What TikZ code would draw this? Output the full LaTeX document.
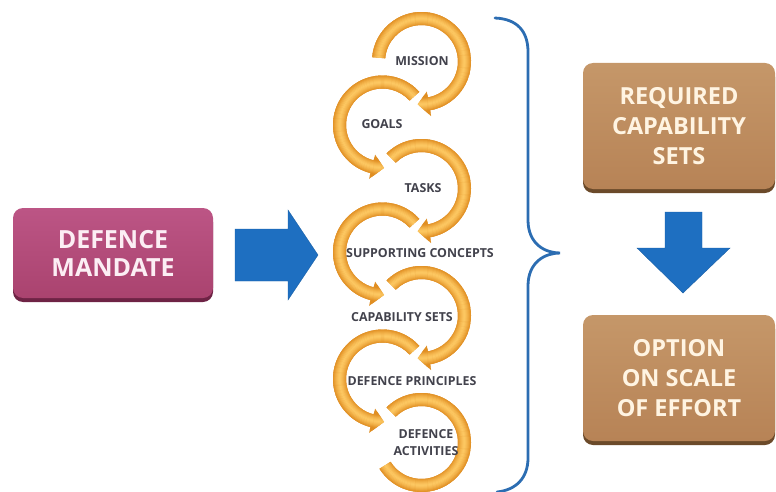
\documentclass[tikz,border=0pt]{standalone}
\usepackage{fontspec}
\setmainfont{Open Sans}
\usetikzlibrary{shadows}
\definecolor{orL}{HTML}{FDC862}
\definecolor{orD}{HTML}{E08E22}
\definecolor{lblGray}{HTML}{42424C}
\definecolor{mandTop}{HTML}{BC5585}
\definecolor{mandBot}{HTML}{AA436F}
\definecolor{mandShadow}{HTML}{6E2345}
\definecolor{mandText}{HTML}{FCEEF4}
\definecolor{brTop}{HTML}{C59769}
\definecolor{brBot}{HTML}{B78356}
\definecolor{brShadow}{HTML}{6B4A2A}
\definecolor{brText}{HTML}{FFF4E2}
\definecolor{arBlue}{HTML}{1E6FC1}
\definecolor{brace}{HTML}{2C6DB2}
\begin{document}
\begin{tikzpicture}[x=1pt,y=-1pt,
  mainbox/.style={rounded corners=10pt, minimum width=200pt, minimum height=90pt, align=center, text=mandText,
    font=\fontsize{25}{28}\selectfont\bfseries, top color=mandTop, bottom color=mandBot,
    drop shadow={shadow xshift=0pt, shadow yshift=-4pt, fill=mandShadow, opacity=1}},
  brownbox/.style={rounded corners=10pt, minimum width=192pt, minimum height=126pt, align=center, text=brText,
    font=\fontsize{23.5}{30}\selectfont\bfseries, top color=brTop, bottom color=brBot,
    drop shadow={shadow xshift=0pt, shadow yshift=-4pt, fill=brShadow, opacity=1}},
  lbl/.style={font=\fontsize{12.4}{17}\selectfont\bfseries, text=lblGray, inner sep=0pt, align=center},
  blockarrow/.style={fill=arBlue, draw=arBlue!85!black, line width=0.4pt, line join=miter}]
\useasboundingbox (0,0) rectangle (776,492);

% ---- rings (drawn from last to first so each arrowhead lies on the next ring)
\foreach \cx/\cy/\a/\b/\t/\ho/\hi in {
  421.5/442.5/225/508/508/49.5/36.5,
  382.5/379/318/104/88/55.5/30.5,
  421.5/315.5/225/440/455/55.5/30.5,
  382.5/252/318/104/88/55.5/30.5,
  421.5/188.5/225/440/455/55.5/30.5,
  382.5/125/318/104/88/55.5/30.5,
  421.5/61.5/185/440/455/55.5/30.5}{
  \path[fill=white,draw=white,line width=2.4pt,line join=round]
    ([shift={(\cx,\cy)}]\a:49.5) arc[start angle=\a,end angle=\b,radius=49.5]
    -- ([shift={(\cx,\cy)}]\b:\ho) -- ([shift={(\cx,\cy)}]\t:43) -- ([shift={(\cx,\cy)}]\b:\hi)
    -- ([shift={(\cx,\cy)}]\b:36.5) arc[start angle=\b,end angle=\a,radius=36.5] -- cycle;
  \begin{scope}
    \clip ([shift={(\cx,\cy)}]\a:49.5) arc[start angle=\a,end angle=\b,radius=49.5]
    -- ([shift={(\cx,\cy)}]\b:\ho) -- ([shift={(\cx,\cy)}]\t:43) -- ([shift={(\cx,\cy)}]\b:\hi)
    -- ([shift={(\cx,\cy)}]\b:36.5) arc[start angle=\b,end angle=\a,radius=36.5] -- cycle;
    \fill[orD] (\cx,\cy) circle[radius=58];
    \foreach \r in {34,35,...,52}{
      \pgfmathtruncatemacro\m{max(0,100-abs(\r-43)^1.4*7)}
      \draw[orL!\m!orD, line width=1.3pt] (\cx,\cy) circle[radius=\r];
    }
  \end{scope}
}

% ---- ring labels
\node[lbl] (mission) at (422,61) {MISSION};
\node[lbl] (goals) at (382,124) {GOALS};
\node[lbl] (tasks) at (423,188) {TASKS};
\node[lbl] (supporting) at (420,253) {SUPPORTING CONCEPTS};
\node[lbl] (capsets) at (402,317) {CAPABILITY SETS};
\node[lbl] (principles) at (412,381) {DEFENCE PRINCIPLES};
\node[lbl] (activities) at (426,443) {DEFENCE\\ACTIVITIES};

% ---- boxes
\node[mainbox] (mandate) at (113,253) {DEFENCE\\MANDATE};
\node[brownbox] (required) at (679,126) {REQUIRED\\CAPABILITY\\SETS};
\node[brownbox] (option) at (679,378) {OPTION\\ON SCALE\\OF EFFORT};

% ---- block arrows
\draw[blockarrow] (235,229) -- (288,229) -- (288,210) -- (318,255) -- (288,300) -- (288,281) -- (235,281) -- cycle;
\draw[blockarrow] (665,212) -- (702,212) -- (702,248) -- (730,248) -- (683,293) -- (637,248) -- (665,248) -- cycle;

% ---- brace
\draw[brace, line width=2.8pt, line cap=round]
  (495,18) .. controls (518,19) and (528,32) .. (528,52)
  -- (528,220) .. controls (528,244) and (545,253) .. (560,253)
  .. controls (545,253) and (528,262) .. (528,286)
  -- (528,458) .. controls (528,478) and (516,490) .. (497,492);
\end{tikzpicture}
\end{document}
